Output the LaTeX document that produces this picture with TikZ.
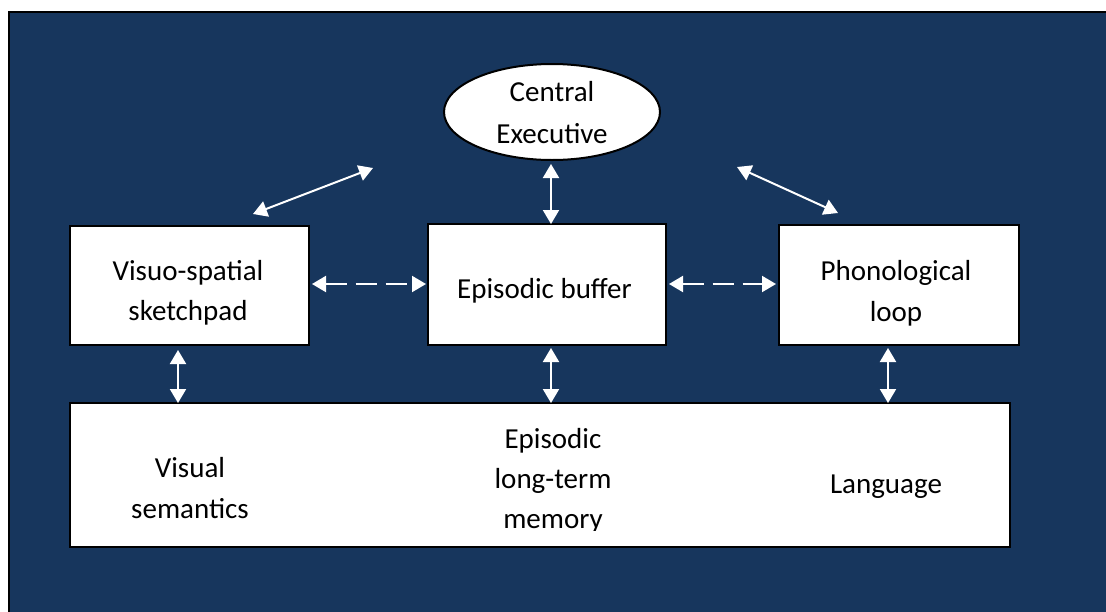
\documentclass[tikz,border=0pt]{standalone}
\usepackage{fontspec}
\setmainfont{Carlito}
\usetikzlibrary{arrows.meta,shapes.geometric}
\definecolor{bgblue}{RGB}{23,54,93}
\tikzset{
  box/.style={draw=black, line width=2pt, fill=white},
  lbl/.style={align=center, anchor=base, inner sep=0pt, font=\fontsize{29}{40}\selectfont, text=black},
  conn/.style={draw=white, line width=2pt, {Triangle[width=16pt,length=14pt]}-{Triangle[width=16pt,length=14pt]}},
  dconn/.style={conn, dash pattern=on 21pt off 9pt},
}
\begin{document}
\begin{tikzpicture}[x=1pt,y=-1pt]
\useasboundingbox (0,0) rectangle (1106,611);
\fill[white] (0,0) rectangle (1106,611);
\fill[bgblue] (9,12) rectangle (1110,615);
\draw[black, line width=2pt] (9,615) -- (9,12) -- (1110,12);
% ellipse
\node[box, ellipse, minimum width=216pt, minimum height=96pt, inner sep=0pt] (ce) at (552,112) {};
\node[lbl, font=\fontsize{29}{42}\selectfont] (cet) at (552,143) {Central\\Executive};
% boxes
\draw[box] (70,226) rectangle (309,345);
\node[lbl] (vs) at (188,320) {Visuo-spatial\\sketchpad};
\draw[box] (428,224) rectangle (666,345);
\node[lbl] (eb) at (544.5,298) {Episodic buffer};
\draw[box] (779,225) rectangle (1019,345);
\node[lbl, font=\fontsize{29}{41}\selectfont] (pl) at (896,321) {Phonological\\loop};
\draw[box] (70,403) rectangle (1010,547);
\node[lbl, font=\fontsize{29}{41}\selectfont] (vsem) at (190,518) {Visual\\semantics};
\begin{scope}
\clip (70,403) rectangle (1010,530);
\node[lbl] (eltm) at (553,528) {Episodic\\long-term\\memory};
\end{scope}
\node[lbl] (lang) at (886,493) {Language};
% connectors
\coordinate (a1) at (373,168); \coordinate (a2) at (253,214);
\coordinate (b1) at (737,167); \coordinate (b2) at (838,213);
\coordinate (c1) at (551,164); \coordinate (c2) at (551,224);
\coordinate (d1) at (312,284); \coordinate (d2) at (426,284);
\coordinate (e1) at (669,284); \coordinate (e2) at (776,284);
\coordinate (f1) at (178,350); \coordinate (f2) at (178,403);
\coordinate (g1) at (551,348); \coordinate (g2) at (551,403);
\coordinate (h1) at (888,348); \coordinate (h2) at (888,403);
\draw[conn] (a1) -- (a2);
\draw[conn] (b1) -- (b2);
\draw[conn] (c1) -- (c2);
\draw[dconn] (d1) -- (d2);
\draw[dconn] (e1) -- (e2);
\draw[conn] (f1) -- (f2);
\draw[conn] (g1) -- (g2);
\draw[conn] (h1) -- (h2);
\end{tikzpicture}
\end{document}
